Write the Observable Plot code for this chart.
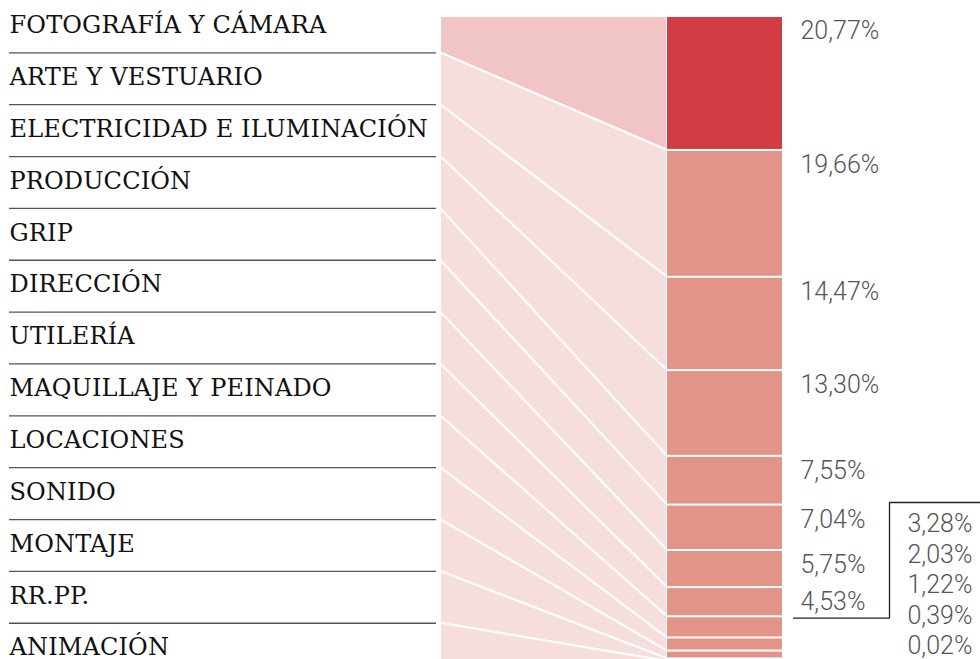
<!DOCTYPE html>
<html>
<head>
<meta charset="utf-8">
<script src="https://cdn.jsdelivr.net/npm/d3@7"></script>
<script src="https://cdn.jsdelivr.net/npm/@observablehq/plot@0.6"></script>
<style>
  html, body { margin: 0; padding: 0; background: #fff; overflow: hidden; }
  svg { display: block; }
</style>
</head>
<body>
<div id="chart"></div>
<script>
// ---- Data ----
const categories = [
  "FOTOGRAFÍA Y CÁMARA",
  "ARTE Y VESTUARIO",
  "ELECTRICIDAD E ILUMINACIÓN",
  "PRODUCCIÓN",
  "GRIP",
  "DIRECCIÓN",
  "UTILERÍA",
  "MAQUILLAJE Y PEINADO",
  "LOCACIONES",
  "SONIDO",
  "MONTAJE",
  "RR.PP.",
  "ANIMACIÓN"
];
const shares = [20.77, 19.66, 14.47, 13.30, 7.55, 7.04, 5.75, 4.53, 3.28, 2.03, 1.22, 0.39, 0.02];

// ---- Layout constants (in scale units) ----
const W = 980, H = 661;
const labelX = 9, sepX2 = 436;
const funnelX1 = 440, funnelX2 = 667, barX2 = 782;
const pctX = 800, smallPctX = 907;
const bracketX1 = 793, bracketX2 = 889;
const sepFirst = 5.63, rowStep = 8.04;   // label rows in y units
const smallStart = 3.0, smallStep = 4.73;

const fmt = v => v.toFixed(2).replace(".", ",") + "%";

// cumulative stacking
const starts = [];
let acc = 0;
for (const v of shares) { starts.push(acc); acc += v; }
const ends = shares.map((v, i) => starts[i] + v);

const rows = categories.map((c, i) => ({
  cat: c, i,
  share: shares[i],
  start: starts[i], end: ends[i],
  leftTop: i === 0 ? 0 : sepFirst + (i - 1) * rowStep,
  leftBottom: i === categories.length - 1 ? 100 : sepFirst + i * rowStep,
  center: sepFirst + (i - 0.5) * rowStep
}));

const funnel = rows.flatMap(r => [
  {cat: r.cat, x: funnelX1, y1: r.leftTop, y2: r.leftBottom, fill: r.i === 0 ? "#f1c4c6" : "#f5dedb"},
  {cat: r.cat, x: funnelX2, y1: r.start, y2: r.end, fill: r.i === 0 ? "#f1c4c6" : "#f5dedb"}
]);

const separators = rows.slice(0, -1).map(r => r.leftBottom);
const bigLabels = rows.slice(0, 8);
const smallLabels = rows.slice(8).map((r, j) => ({...r, ys: starts[5] + smallStart + j * smallStep}));

const bracket = [
  {x: bracketX1, y: ends[7] + 0.2},
  {x: bracketX2, y: ends[7] + 0.2},
  {x: bracketX2, y: starts[5] - 0.4},
  {x: W, y: starts[5] - 0.4}
];

const chart = Plot.plot({
  width: W,
  height: H,
  margin: 0,
  x: {domain: [0, W], range: [0, W], axis: null},
  y: {domain: [0, 100], range: [16, 661], axis: null},
  color: {type: "identity"},
  style: {background: "#fff", overflow: "hidden"},
  marks: [
    Plot.areaY(funnel, {x: "x", y1: "y1", y2: "y2", z: "cat", fill: "fill", stroke: "#fff", strokeWidth: 2, curve: "linear"}),
    Plot.rect(rows, {x1: funnelX2, x2: barX2, y1: "start", y2: "end",
      fill: d => d.i === 0 ? "#d23d45" : "#e39488", insetTop: 1, insetBottom: 1}),
    Plot.ruleY(separators, {y: d => d, x1: labelX, x2: sepX2, stroke: "#555", strokeWidth: 1.3}),
    Plot.text(rows, {x: labelX, y: "center", text: "cat", textAnchor: "start", dy: -1.5,
      fontFamily: "DejaVu Serif", fontSize: 24, fill: "#111",
      render: (index, scales, values, dims, ctx, next) => {
        const g = next(index, scales, values, dims, ctx);
        g.setAttribute("letter-spacing", "0.15");
        return g;
      }}),
    Plot.text(bigLabels, {x: pctX, y: "start", text: d => fmt(d.share), textAnchor: "start",
      lineAnchor: "top", dy: 5, fontFamily: "Roboto", fontWeight: 300, fontSize: 25, fill: "#555"}),
    Plot.text(smallLabels, {x: smallPctX, y: "ys", text: d => fmt(d.share), textAnchor: "start",
      fontFamily: "Roboto", fontWeight: 300, fontSize: 25, fill: "#555"}),
    Plot.line(bracket, {x: "x", y: "y", stroke: "#222", strokeWidth: 1.3})
  ]
});
document.getElementById("chart").appendChild(chart);
</script>
</body>
</html>
